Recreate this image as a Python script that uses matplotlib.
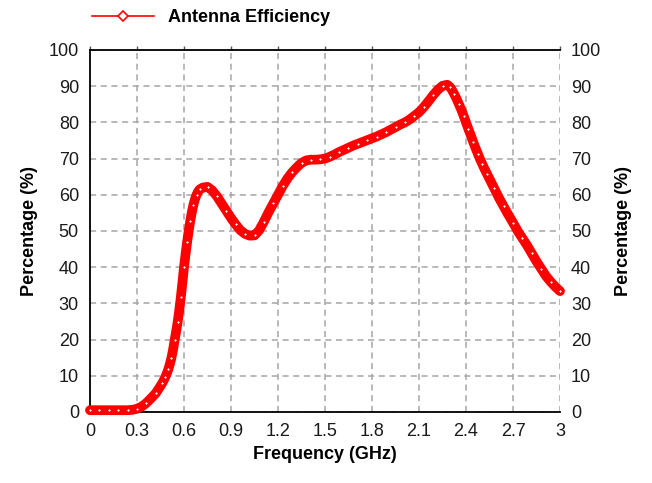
import matplotlib
matplotlib.use("Agg")
import matplotlib.pyplot as plt
from matplotlib.lines import Line2D
from matplotlib import font_manager

# ---- data ----
freq = [0.00, 0.03, 0.06, 0.09, 0.12, 0.15, 0.18, 0.21, 0.24, 0.27,
        0.30, 0.33, 0.36, 0.39, 0.42,
        0.45, 0.46, 0.47, 0.48, 0.49, 0.50, 0.51, 0.52, 0.53, 0.54,
        0.55, 0.56, 0.57, 0.58, 0.59, 0.60, 0.61, 0.62, 0.63, 0.64,
        0.65, 0.66, 0.67, 0.68, 0.69, 0.70, 0.72, 0.75, 0.78, 0.81,
        0.84, 0.87, 0.90, 0.93, 0.96, 0.99, 1.02, 1.05, 1.08, 1.11,
        1.14, 1.17, 1.20, 1.23, 1.26, 1.29, 1.32, 1.35, 1.38, 1.41,
        1.44, 1.47, 1.50, 1.53, 1.56, 1.59, 1.62, 1.65, 1.68, 1.71,
        1.74, 1.77, 1.80, 1.83, 1.86, 1.89, 1.92, 1.95, 1.98, 2.01,
        2.04, 2.07, 2.10, 2.13, 2.16, 2.19, 2.22, 2.25, 2.28,
        2.295, 2.31, 2.325, 2.34, 2.355, 2.37, 2.385, 2.40, 2.415, 2.43,
        2.445, 2.46, 2.475, 2.49, 2.505, 2.52, 2.535, 2.55,
        2.58, 2.61, 2.64, 2.67, 2.70, 2.73, 2.76, 2.79, 2.82, 2.85,
        2.88, 2.91, 2.94, 2.97, 3.00]
efficiency = [0.5, 0.5, 0.5, 0.5, 0.5, 0.5, 0.5, 0.5, 0.5, 0.6,
              0.9, 1.5, 2.5, 3.8, 5.2,
              7.2, 7.9, 8.7, 9.6, 10.6, 11.8, 13.3, 15.0, 17.2, 19.8,
              22.3, 25.0, 28.2, 31.8, 35.8, 40.0, 43.6, 47.0, 50.0, 52.8,
              55.2, 57.2, 58.8, 60.0, 60.9, 61.5, 62.0, 62.2, 61.2, 59.6,
              57.6, 55.6, 53.6, 51.8, 50.2, 49.2, 48.7, 48.8, 50.2, 52.6,
              55.2, 57.6, 60.0, 62.4, 64.5, 66.2, 67.6, 68.8, 69.5, 69.7,
              69.7, 69.8, 70.0, 70.5, 71.1, 71.8, 72.4, 73.0, 73.6, 74.1,
              74.6, 75.1, 75.6, 76.1, 76.7, 77.3, 78.0, 78.7, 79.4, 80.0,
              80.8, 81.8, 82.8, 84.2, 85.8, 87.5, 89.0, 90.1, 90.4,
              89.9, 89.0, 87.8, 86.5, 85.0, 83.5, 81.8, 80.0, 78.2, 76.5,
              74.7, 73.0, 71.4, 69.8, 68.4, 67.0, 65.7, 64.4,
              61.8, 59.2, 56.8, 54.5, 52.3, 50.0, 48.0, 46.0, 43.8, 41.6,
              39.6, 37.6, 36.0, 34.6, 33.4]
xticks = [0, 0.3, 0.6, 0.9, 1.2, 1.5, 1.8, 2.1, 2.4, 2.7, 3]
xtick_labels = ["0", "0.3", "0.6", "0.9", "1.2", "1.5", "1.8", "2.1", "2.4", "2.7", "3"]
yticks = [0, 10, 20, 30, 40, 50, 60, 70, 80, 90, 100]

installed = {f.name for f in font_manager.fontManager.ttflist}
label_family = ["Liberation Sans Narrow", "Liberation Sans", "DejaVu Sans"]
label_size = 15 if "Liberation Sans Narrow" in installed else 13
tick_family = ["Liberation Sans", "DejaVu Sans"]
RED = "#ff0000"

fig = plt.figure(figsize=(6.52, 4.83), dpi=100)
ax = fig.add_axes([90/652, 1-412/483, 470/652, 362/483])

# dense overlapping diamond markers form a thick band in the reference
ax.plot(freq, efficiency, color=RED, lw=7, solid_capstyle="round",
        solid_joinstyle="round", zorder=3, clip_on=False)
ax.plot(freq[::2], efficiency[::2], linestyle="none", marker="D", markersize=2.6,
        markerfacecolor="white", markeredgecolor=RED, markeredgewidth=1.2,
        zorder=4, clip_on=False)

ax.set_xlim(0, 3)
ax.set_ylim(0, 100)
ax.set_xticks(xticks)
ax.set_xticklabels(xtick_labels)
ax.set_yticks(yticks)

ax.grid(True, color="#a6a6a6", linestyle=(0, (4, 3)), linewidth=1.1)
ax.set_axisbelow(True)

for s in ["left", "bottom", "top"]:
    ax.spines[s].set_color("black")
    ax.spines[s].set_linewidth(1.3)
ax.spines["right"].set_visible(False)

ax.tick_params(axis="both", which="both", length=0, labelsize=13, pad=8)
for lab in ax.get_xticklabels() + ax.get_yticklabels():
    lab.set_family(tick_family)
    lab.set_color("#1a1a1a")

ax2 = ax.twinx()
ax2.set_ylim(0, 100)
ax2.set_yticks(yticks)
ax2.tick_params(axis="y", length=0, labelsize=13, pad=8)
for lab in ax2.get_yticklabels():
    lab.set_family(tick_family)
    lab.set_color("#1a1a1a")
for s in ["left", "bottom", "top", "right"]:
    ax2.spines[s].set_visible(False)

ax3 = ax.secondary_xaxis("top")
ax3.set_xticks(xticks)
ax3.tick_params(axis="x", length=3, width=1, labeltop=False, direction="out", color="#555555")
ax3.spines["top"].set_visible(False)

ax.set_xlabel("Frequency (GHz)", fontsize=label_size, fontweight="bold",
              family=label_family, labelpad=4)
ax.set_ylabel("Percentage (%)", fontsize=label_size, fontweight="bold",
              family=label_family, labelpad=8)
ax2.set_ylabel("Percentage (%)", fontsize=label_size, fontweight="bold",
               family=label_family, labelpad=10)

handle = Line2D([], [], color=RED, lw=1.2, marker="D", markersize=5,
                markerfacecolor="white", markeredgecolor=RED, markeredgewidth=1.2)
ax.legend(handles=[handle], labels=["Antenna Efficiency"], loc="lower left",
          bbox_to_anchor=(0.005, 1.065), frameon=False, handlelength=3.4,
          handletextpad=0.8, borderaxespad=0, borderpad=0,
          prop={"family": label_family, "weight": "bold", "size": label_size})

fig.savefig("out.png", dpi=100)
